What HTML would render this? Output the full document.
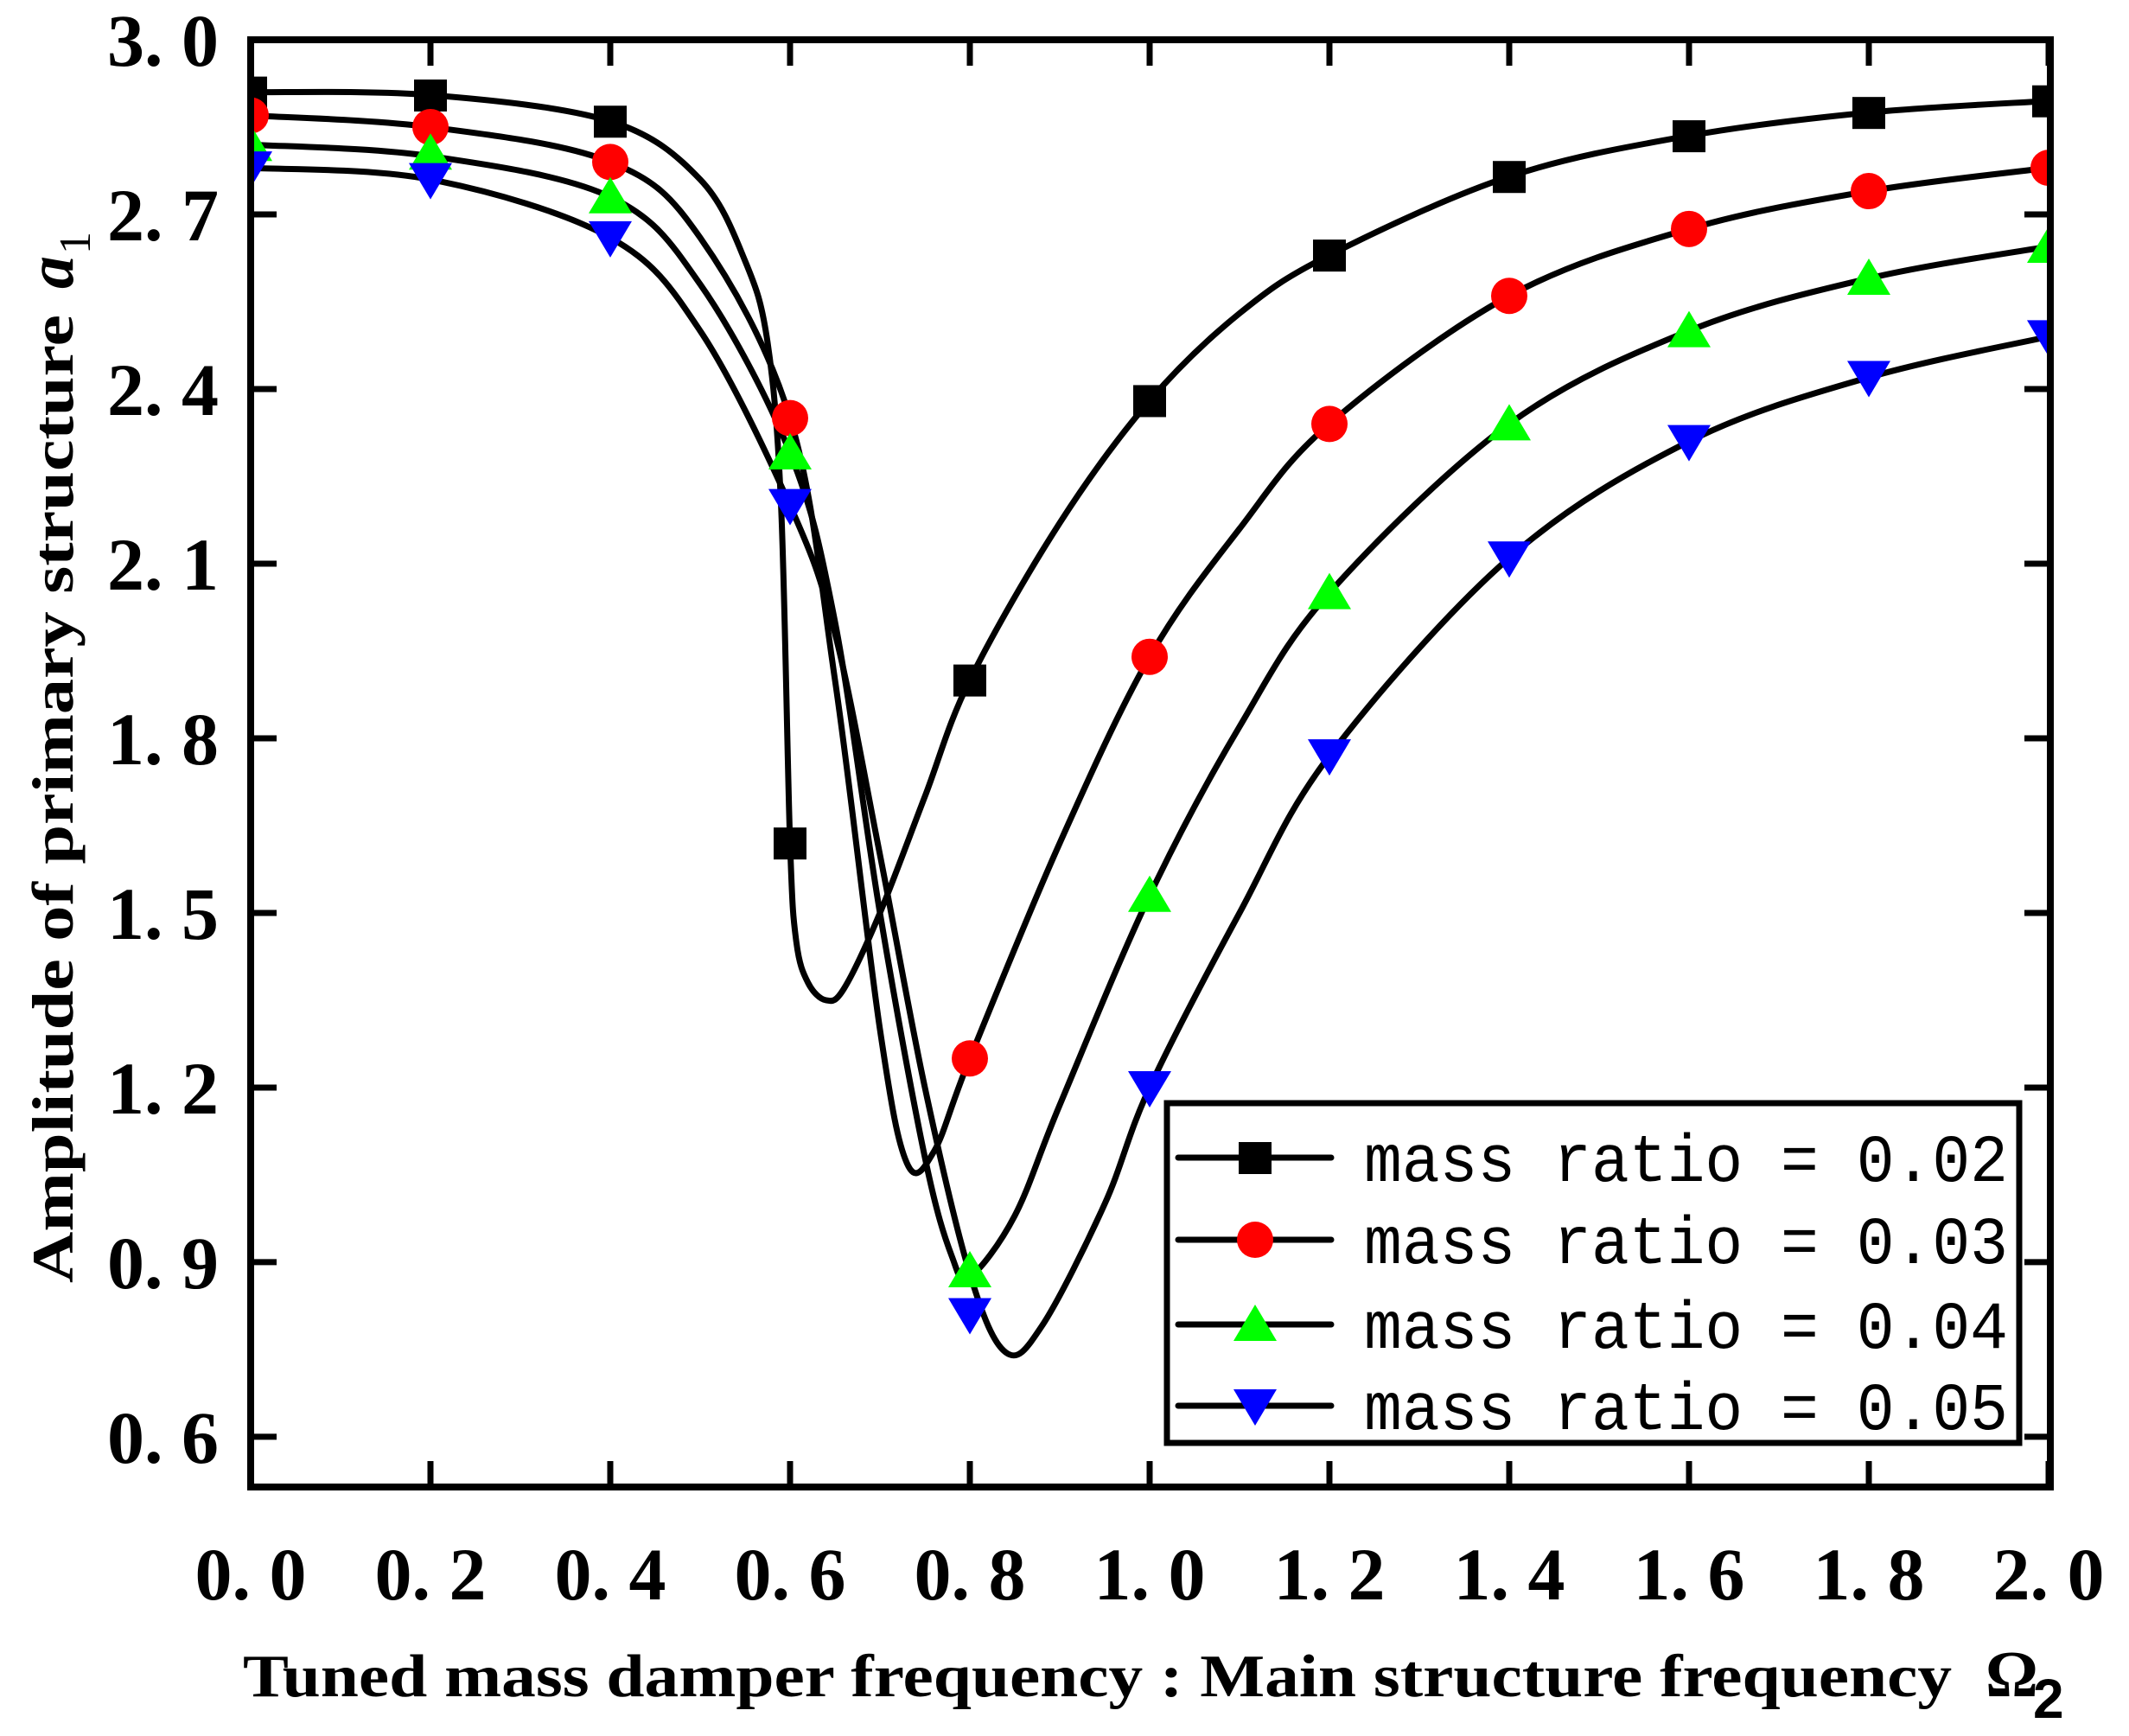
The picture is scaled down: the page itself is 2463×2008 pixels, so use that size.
<!DOCTYPE html>
<html><head><meta charset="utf-8"><style>
html,body{margin:0;padding:0;background:#fff;}
svg{display:block;}
</style></head><body>
<svg id="s" width="2463" height="2008" viewBox="0 0 2463 2008" xmlns="http://www.w3.org/2000/svg">
<defs><clipPath id="cp"><rect x="290" y="46" width="2082" height="1674"/></clipPath></defs>
<g id="curves" clip-path="url(#cp)"></g>
<rect x="290" y="46" width="2082" height="1674" fill="none" stroke="#000" stroke-width="8"/>
<g id="ticks" stroke="#000" stroke-width="7"></g>
<g id="labels" font-family="Liberation Serif, serif" font-size="86" font-weight="bold" fill="#000"></g>
<g id="legend"></g>
<text x="281" y="1962" font-family="Liberation Serif, serif" font-weight="bold" font-size="70" textLength="1977" lengthAdjust="spacingAndGlyphs">Tuned mass damper frequency : Main structure frequency</text>
<text x="2297" y="1962" font-family="Liberation Serif, serif" font-weight="bold" font-size="76">Ω</text>
<text x="2352" y="1987" font-family="Liberation Sans, sans-serif" font-weight="bold" font-size="64">2</text>
<g transform="translate(84,1484) rotate(-90)">
<text x="0" y="0" font-family="Liberation Serif, serif" font-weight="bold" font-size="68" textLength="1120" lengthAdjust="spacingAndGlyphs">Amplitude of primary structure</text>
<text x="1150" y="0" font-family="Liberation Serif, serif" font-style="italic" font-weight="bold" font-size="76">a</text>
<text x="1190" y="20" font-family="Liberation Serif, serif" font-size="52">1</text>
</g>
</svg>
<script>
var NS="http://www.w3.org/2000/svg";
function X(v){return 290+v*1040;}
function Y(a){return 46+(3-a)*673.3;}
function el(t,at,p){var e=document.createElementNS(NS,t);for(var k in at)e.setAttribute(k,at[k]);p.appendChild(e);return e;}
var data=[
 [[0,2.91],[0.2,2.905],[0.4,2.86],[0.5,2.76],[0.55,2.62],[0.575,2.48],[0.59,2.2],[0.6,1.62],[0.607,1.45],[0.62,1.38],[0.64,1.35],[0.66,1.37],[0.7,1.5],[0.75,1.7],[0.8,1.9],[0.9,2.17],[1.0,2.38],[1.1,2.53],[1.2,2.63],[1.4,2.765],[1.6,2.835],[1.8,2.875],[2.0,2.895]],
 [[0,2.87],[0.2,2.85],[0.4,2.79],[0.5,2.66],[0.6,2.35],[0.65,1.9],[0.7,1.3],[0.73,1.07],[0.76,1.09],[0.8,1.25],[0.9,1.62],[1.0,1.94],[1.1,2.16],[1.2,2.34],[1.4,2.56],[1.6,2.675],[1.8,2.74],[2.0,2.78]],
 [[0,2.82],[0.2,2.80],[0.4,2.73],[0.5,2.58],[0.6,2.29],[0.65,2.0],[0.7,1.5],[0.75,1.08],[0.78,0.91],[0.8,0.875],[0.85,0.98],[0.9,1.17],[1.0,1.53],[1.1,1.82],[1.2,2.05],[1.4,2.34],[1.6,2.5],[1.8,2.59],[2.0,2.645]],
 [[0,2.78],[0.2,2.76],[0.4,2.66],[0.5,2.5],[0.6,2.2],[0.65,1.98],[0.7,1.6],[0.75,1.2],[0.8,0.88],[0.84,0.745],[0.88,0.79],[0.95,1.0],[1.0,1.2],[1.1,1.5],[1.2,1.77],[1.4,2.11],[1.6,2.31],[1.8,2.42],[2.0,2.49]]
];
var marks=[
 [2.91,2.905,2.86,1.62,1.9,2.38,2.63,2.765,2.835,2.875,2.895],
 [2.87,2.85,2.79,2.35,1.25,1.94,2.34,2.56,2.675,2.74,2.78],
 [2.82,2.805,2.73,2.29,0.885,1.53,2.05,2.34,2.5,2.59,2.645],
 [2.78,2.76,2.66,2.2,0.81,1.2,1.77,2.11,2.31,2.42,2.49]
];
function path(pts){
 var p=pts.map(function(q){return [X(q[0]),Y(q[1])];});
 var d="M"+p[0][0]+","+p[0][1];
 for(var i=0;i<p.length-1;i++){
  var p0=p[Math.max(0,i-1)],p1=p[i],p2=p[i+1],p3=p[Math.min(p.length-1,i+2)];
  var c1=[p1[0]+(p2[0]-p0[0])/6,p1[1]+(p2[1]-p0[1])/6];
  var c2=[p2[0]-(p3[0]-p1[0])/6,p2[1]-(p3[1]-p1[1])/6];
  d+=" C"+c1+" "+c2+" "+p2;
 }
 return d;
}
function marker(k,x,y,g){
 if(k==0)el("rect",{x:x-19,y:y-18,width:38,height:37,fill:"#000"},g);
 else if(k==1)el("ellipse",{cx:x,cy:y,rx:21,ry:21,fill:"#ff0000"},g);
 else if(k==2)el("polygon",{points:(x-25)+","+(y+19)+" "+(x+25)+","+(y+19)+" "+x+","+(y-23),fill:"#00ff00"},g);
 else el("polygon",{points:(x-25)+","+(y-19)+" "+(x+25)+","+(y-19)+" "+x+","+(y+23),fill:"#0000ff"},g);
}
var cg=document.getElementById("curves");
for(var k=0;k<4;k++)el("path",{d:path(data[k]),fill:"none",stroke:"#000","stroke-width":7,"stroke-linejoin":"round"},cg);
for(var k=0;k<4;k++)for(var i=0;i<11;i++)marker(k,X(i*0.2),Y(marks[k][i]),cg);
var tg=document.getElementById("ticks"),lg=document.getElementById("labels");
for(var i=0;i<=10;i++){var x=X(i*0.2);
 el("line",{x1:x,y1:46,x2:x,y2:76},tg);el("line",{x1:x,y1:1720,x2:x,y2:1690},tg);
 var t=el("text",{x:x,y:1850,"text-anchor":"middle"},lg);
 t.textContent=(i*0.2).toFixed(1).replace(".",". ");t.style.whiteSpace="pre";
}
for(var i=0;i<=8;i++){var v=0.6+i*0.3,y=Y(v);
 el("line",{x1:290,y1:y,x2:320,y2:y},tg);el("line",{x1:2372,y1:y,x2:2342,y2:y},tg);
 var t=el("text",{x:253,y:y+30,"text-anchor":"end"},lg);t.textContent=v.toFixed(1).replace(".",". ");t.style.whiteSpace="pre";
}
var L=document.getElementById("legend");
el("rect",{x:1350,y:1276,width:986,height:393,fill:"#fff",stroke:"#000","stroke-width":7},L);
var names=["0.02","0.03","0.04","0.05"],ry=[1339,1434,1532,1626];
for(var k=0;k<4;k++){
 el("line",{x1:1363,y1:ry[k],x2:1540,y2:ry[k],stroke:"#000","stroke-width":7,"stroke-linecap":"round"},L);
 marker(k,1452,ry[k],L);
 var t=el("text",{x:1578,y:ry[k]+27,"font-family":"Liberation Mono, monospace","font-size":"78",textLength:"745",lengthAdjust:"spacingAndGlyphs"},L);
 t.textContent="mass ratio = "+names[k];t.style.whiteSpace="pre";
}
</script>
</body></html>
